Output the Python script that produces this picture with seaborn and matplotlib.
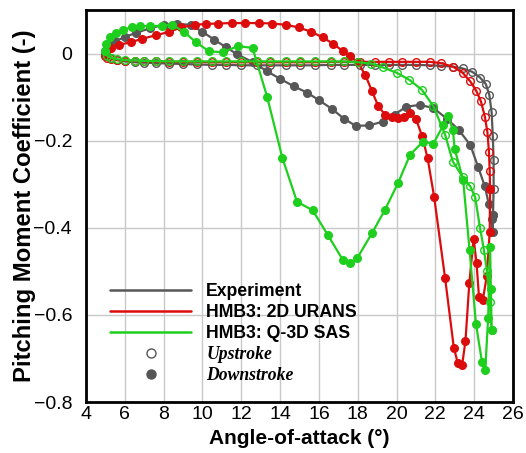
import matplotlib
matplotlib.use("Agg")
import matplotlib.pyplot as plt
import seaborn as sns
import numpy as np
from matplotlib.lines import Line2D
from matplotlib.ticker import MultipleLocator, FuncFormatter

# ---------------- data ----------------
exp_up_x = [5.0, 5.1, 5.3, 5.6, 6.0, 6.5, 7.0, 7.6, 8.3, 9.0, 9.7, 10.5, 11.2, 12.0, 12.8, 13.5,
            14.3, 15.0, 15.8, 16.6, 17.3, 18.1, 18.9, 19.6, 20.3, 21.0, 21.7, 22.3, 22.9, 23.4,
            23.9, 24.3, 24.6, 24.78, 24.9, 24.96, 25.0, 25.0, 24.97]
exp_up_y = [0.0, -0.006, -0.011, -0.015, -0.018, -0.02, -0.021, -0.022, -0.023, -0.024, -0.025,
            -0.026, -0.026, -0.027, -0.027, -0.027, -0.027, -0.027, -0.027, -0.026, -0.026, -0.026,
            -0.026, -0.026, -0.026, -0.026, -0.027, -0.028, -0.03, -0.034, -0.042, -0.055, -0.07,
            -0.095, -0.135, -0.19, -0.245, -0.31, -0.37]
exp_dn_x = [24.97, 24.95, 24.9, 24.75, 24.55, 24.2, 23.8, 23.2, 22.6, 21.9, 21.2, 20.5, 19.9, 19.3,
            18.6, 17.9, 17.3, 16.7, 16.0, 15.4, 14.7, 14.0, 13.3, 12.6, 11.8, 11.2, 10.6, 10.0, 9.4,
            8.7, 8.0, 7.3, 6.6, 6.0, 5.5, 5.2, 5.05, 5.0]
exp_dn_y = [-0.37, -0.41, -0.38, -0.345, -0.305, -0.26, -0.21, -0.175, -0.15, -0.125, -0.118,
            -0.122, -0.14, -0.156, -0.165, -0.166, -0.15, -0.128, -0.107, -0.09, -0.075, -0.058,
            -0.04, -0.02, -0.002, 0.015, 0.032, 0.05, 0.066, 0.068, 0.066, 0.058, 0.048, 0.038,
            0.028, 0.018, 0.008, 0.0]

urans_up_x = [5.0, 5.1, 5.3, 5.6, 6.0, 6.5, 7.0, 7.6, 8.3, 9.0, 9.7, 10.5, 11.2, 12.0, 12.8, 13.5,
              14.3, 15.0, 15.8, 16.6, 17.3, 18.1, 18.9, 19.6, 20.3, 21.0, 21.7, 22.3, 22.9, 23.4,
              23.8, 24.1, 24.35, 24.55, 24.68, 24.76, 24.8, 24.82]
urans_up_y = [-0.005, -0.01, -0.013, -0.015, -0.016, -0.017, -0.018, -0.018, -0.019, -0.019,
              -0.019, -0.02, -0.02, -0.02, -0.02, -0.02, -0.02, -0.02, -0.02, -0.019, -0.019,
              -0.019, -0.019, -0.019, -0.019, -0.019, -0.019, -0.022, -0.03, -0.044, -0.064,
              -0.085, -0.11, -0.145, -0.18, -0.225, -0.27, -0.31]
urans_dn_x = [24.82, 24.8, 24.65, 24.45, 24.25, 24.12, 23.97, 23.75, 23.55, 23.38, 23.15, 22.95,
              22.5, 21.94, 21.6, 21.32, 21.0, 20.7, 20.4, 20.08, 19.75, 19.4, 19.05, 18.74, 18.4,
              18.0, 17.6, 17.25, 16.75, 16.2, 15.6, 14.95, 14.3, 13.6, 12.9, 12.2, 11.5, 10.8,
              10.2, 9.6, 8.9, 8.3, 7.6, 6.9, 6.3, 5.7, 5.3, 5.05]
urans_dn_y = [-0.31, -0.41, -0.51, -0.565, -0.56, -0.48, -0.425, -0.527, -0.66, -0.715, -0.71,
              -0.675, -0.515, -0.33, -0.24, -0.19, -0.15, -0.136, -0.145, -0.147, -0.145, -0.14,
              -0.12, -0.087, -0.05, -0.02, -0.005, 0.005, 0.022, 0.037, 0.05, 0.06, 0.066, 0.069,
              0.07, 0.07, 0.07, 0.069, 0.068, 0.066, 0.06, 0.05, 0.042, 0.034, 0.026, 0.02, 0.012,
              0.0]

sas_up_x = [5.0, 5.1, 5.3, 5.6, 6.0, 6.5, 7.0, 7.6, 8.3, 9.0, 9.7, 10.5, 11.2, 12.0, 12.8, 13.5,
            14.3, 15.0, 15.8, 16.6, 17.3, 18.0, 18.7, 19.3, 20.0, 20.65, 21.3, 21.9, 22.5, 22.9,
            23.4, 23.8, 24.05, 24.3, 24.5, 24.66, 24.8, 24.9]
sas_up_y = [0.005, -0.005, -0.01, -0.013, -0.015, -0.016, -0.017, -0.017, -0.018, -0.018,
            -0.018, -0.018, -0.018, -0.018, -0.018, -0.018, -0.018, -0.018, -0.018, -0.018,
            -0.018, -0.02, -0.023, -0.032, -0.044, -0.06, -0.083, -0.121, -0.186, -0.248,
            -0.283, -0.305, -0.33, -0.4, -0.45, -0.5, -0.57, -0.635]
sas_dn_x = [24.9, 24.86, 24.82, 24.72, 24.57, 24.4, 24.09, 23.76, 23.43, 23.0, 22.9, 22.66, 22.4,
            21.9, 21.37, 20.7, 20.08, 19.4, 18.74, 17.97, 17.6, 17.25, 16.45, 15.68, 14.87, 14.12,
            13.33, 12.58, 11.82, 11.06, 10.35, 9.66, 9.05, 8.45, 7.9, 7.3, 6.8, 6.35, 5.9, 5.55,
            5.25, 5.05, 5.0]
sas_dn_y = [-0.635, -0.54, -0.443, -0.607, -0.727, -0.708, -0.62, -0.45, -0.29, -0.22, -0.175,
            -0.144, -0.165, -0.207, -0.202, -0.232, -0.297, -0.359, -0.412, -0.47, -0.48, -0.475,
            -0.416, -0.36, -0.34, -0.24, -0.099, 0.013, 0.017, 0.003, 0.005, 0.026, 0.05, 0.066,
            0.064, 0.063, 0.063, 0.06, 0.055, 0.047, 0.037, 0.022, 0.005]

series_labels = ["Experiment", "HMB3: 2D URANS", "HMB3: Q-3D SAS"]
stroke_labels = ["Upstroke", "Downstroke"]
x_ticks = [4, 6, 8, 10, 12, 14, 16, 18, 20, 22, 24, 26]
y_ticks = [0, -0.2, -0.4, -0.6, -0.8]

# ---------------- style ----------------
sns.set_theme(style="white")
plt.rcParams["font.family"] = ["Liberation Sans", "DejaVu Sans"]
plt.rcParams["text.color"] = "black"
plt.rcParams["axes.labelcolor"] = "black"
plt.rcParams["xtick.color"] = "black"
plt.rcParams["ytick.color"] = "black"

colors = ["#575757", "#dc0c0c", "#1ecf1e"]
data = [
    (exp_up_x, exp_up_y, exp_dn_x, exp_dn_y),
    (urans_up_x, urans_up_y, urans_dn_x, urans_dn_y),
    (sas_up_x, sas_up_y, sas_dn_x, sas_dn_y),
]

fig = plt.figure(figsize=(5.26, 4.53), dpi=100)
ax = fig.add_axes([86 / 526, 1 - 402 / 453, 427 / 526, 392 / 453])

for i, (ux, uy, dx, dy) in enumerate(data):
    c = colors[i]
    sns.lineplot(x=ux, y=uy, sort=False, estimator=None, ax=ax, color=c, lw=1.6,
                 marker="o", markersize=5.5, markerfacecolor="none", markeredgecolor=c,
                 markeredgewidth=1.0, zorder=3 + i)
    sns.lineplot(x=dx, y=dy, sort=False, estimator=None, ax=ax, color=c, lw=1.6,
                 marker="o", markersize=5.5, markerfacecolor=c, markeredgecolor=c,
                 markeredgewidth=1.0, zorder=3 + i)

ax.set_xlim(4, 26)
ax.set_ylim(-0.8, 0.1)
ax.set_xticks(x_ticks)
ax.set_yticks(y_ticks)
ax.xaxis.set_minor_locator(MultipleLocator(1))
ax.yaxis.set_minor_locator(MultipleLocator(0.1))
ax.yaxis.set_major_formatter(FuncFormatter(lambda v, p: "0" if abs(v) < 1e-9 else f"{v:.1f}".replace("-", "\u2212")))
ax.grid(True, which="major", color="#c8c8c8", lw=1.0, zorder=0)
ax.set_axisbelow(True)

ax.tick_params(axis="both", which="major", direction="in", length=8, width=1.3,
               labelsize=14, colors="black", top=False, right=False)
ax.tick_params(axis="both", which="minor", direction="in", length=4, width=1.0,
               colors="black", top=False, right=False)
ax.tick_params(axis="x", which="major", pad=3)
ax.tick_params(axis="y", which="major", pad=10)
for s in ax.spines.values():
    s.set_visible(True)
    s.set_color("black")
    s.set_linewidth(2.0)

ax.set_xlabel("Angle-of-attack (\u00b0)", fontsize=15, fontweight="bold", labelpad=4, color="black")
ax.set_ylabel("Pitching Moment Coefficient (-)", fontsize=17.2, fontweight="bold", labelpad=-2,
              color="black")

handles = [
    Line2D([], [], color=colors[0], lw=1.8),
    Line2D([], [], color=colors[1], lw=1.8),
    Line2D([], [], color=colors[2], lw=1.8),
    Line2D([], [], ls="none", marker="o", markersize=6.5, markerfacecolor="none",
           markeredgecolor="#555555", markeredgewidth=1.0),
    Line2D([], [], ls="none", marker="o", markersize=6.5, markerfacecolor="#555555",
           markeredgecolor="#555555"),
]
leg = ax.legend(handles, series_labels + stroke_labels, loc="lower left",
                bbox_to_anchor=((110 - 86) / 427, (402 - 384) / 392), frameon=False,
                borderpad=0, borderaxespad=0, handlelength=4.6, handletextpad=0.85,
                labelspacing=0.22, prop={"size": 12.7, "weight": "bold"})
for j, t in enumerate(leg.get_texts()):
    t.set_color("black")
    if j >= 3:
        t.set_fontfamily(["Liberation Serif", "DejaVu Serif"])
        t.set_fontstyle("italic")
        t.set_fontweight("bold")

fig.savefig("out.png", dpi=100)
